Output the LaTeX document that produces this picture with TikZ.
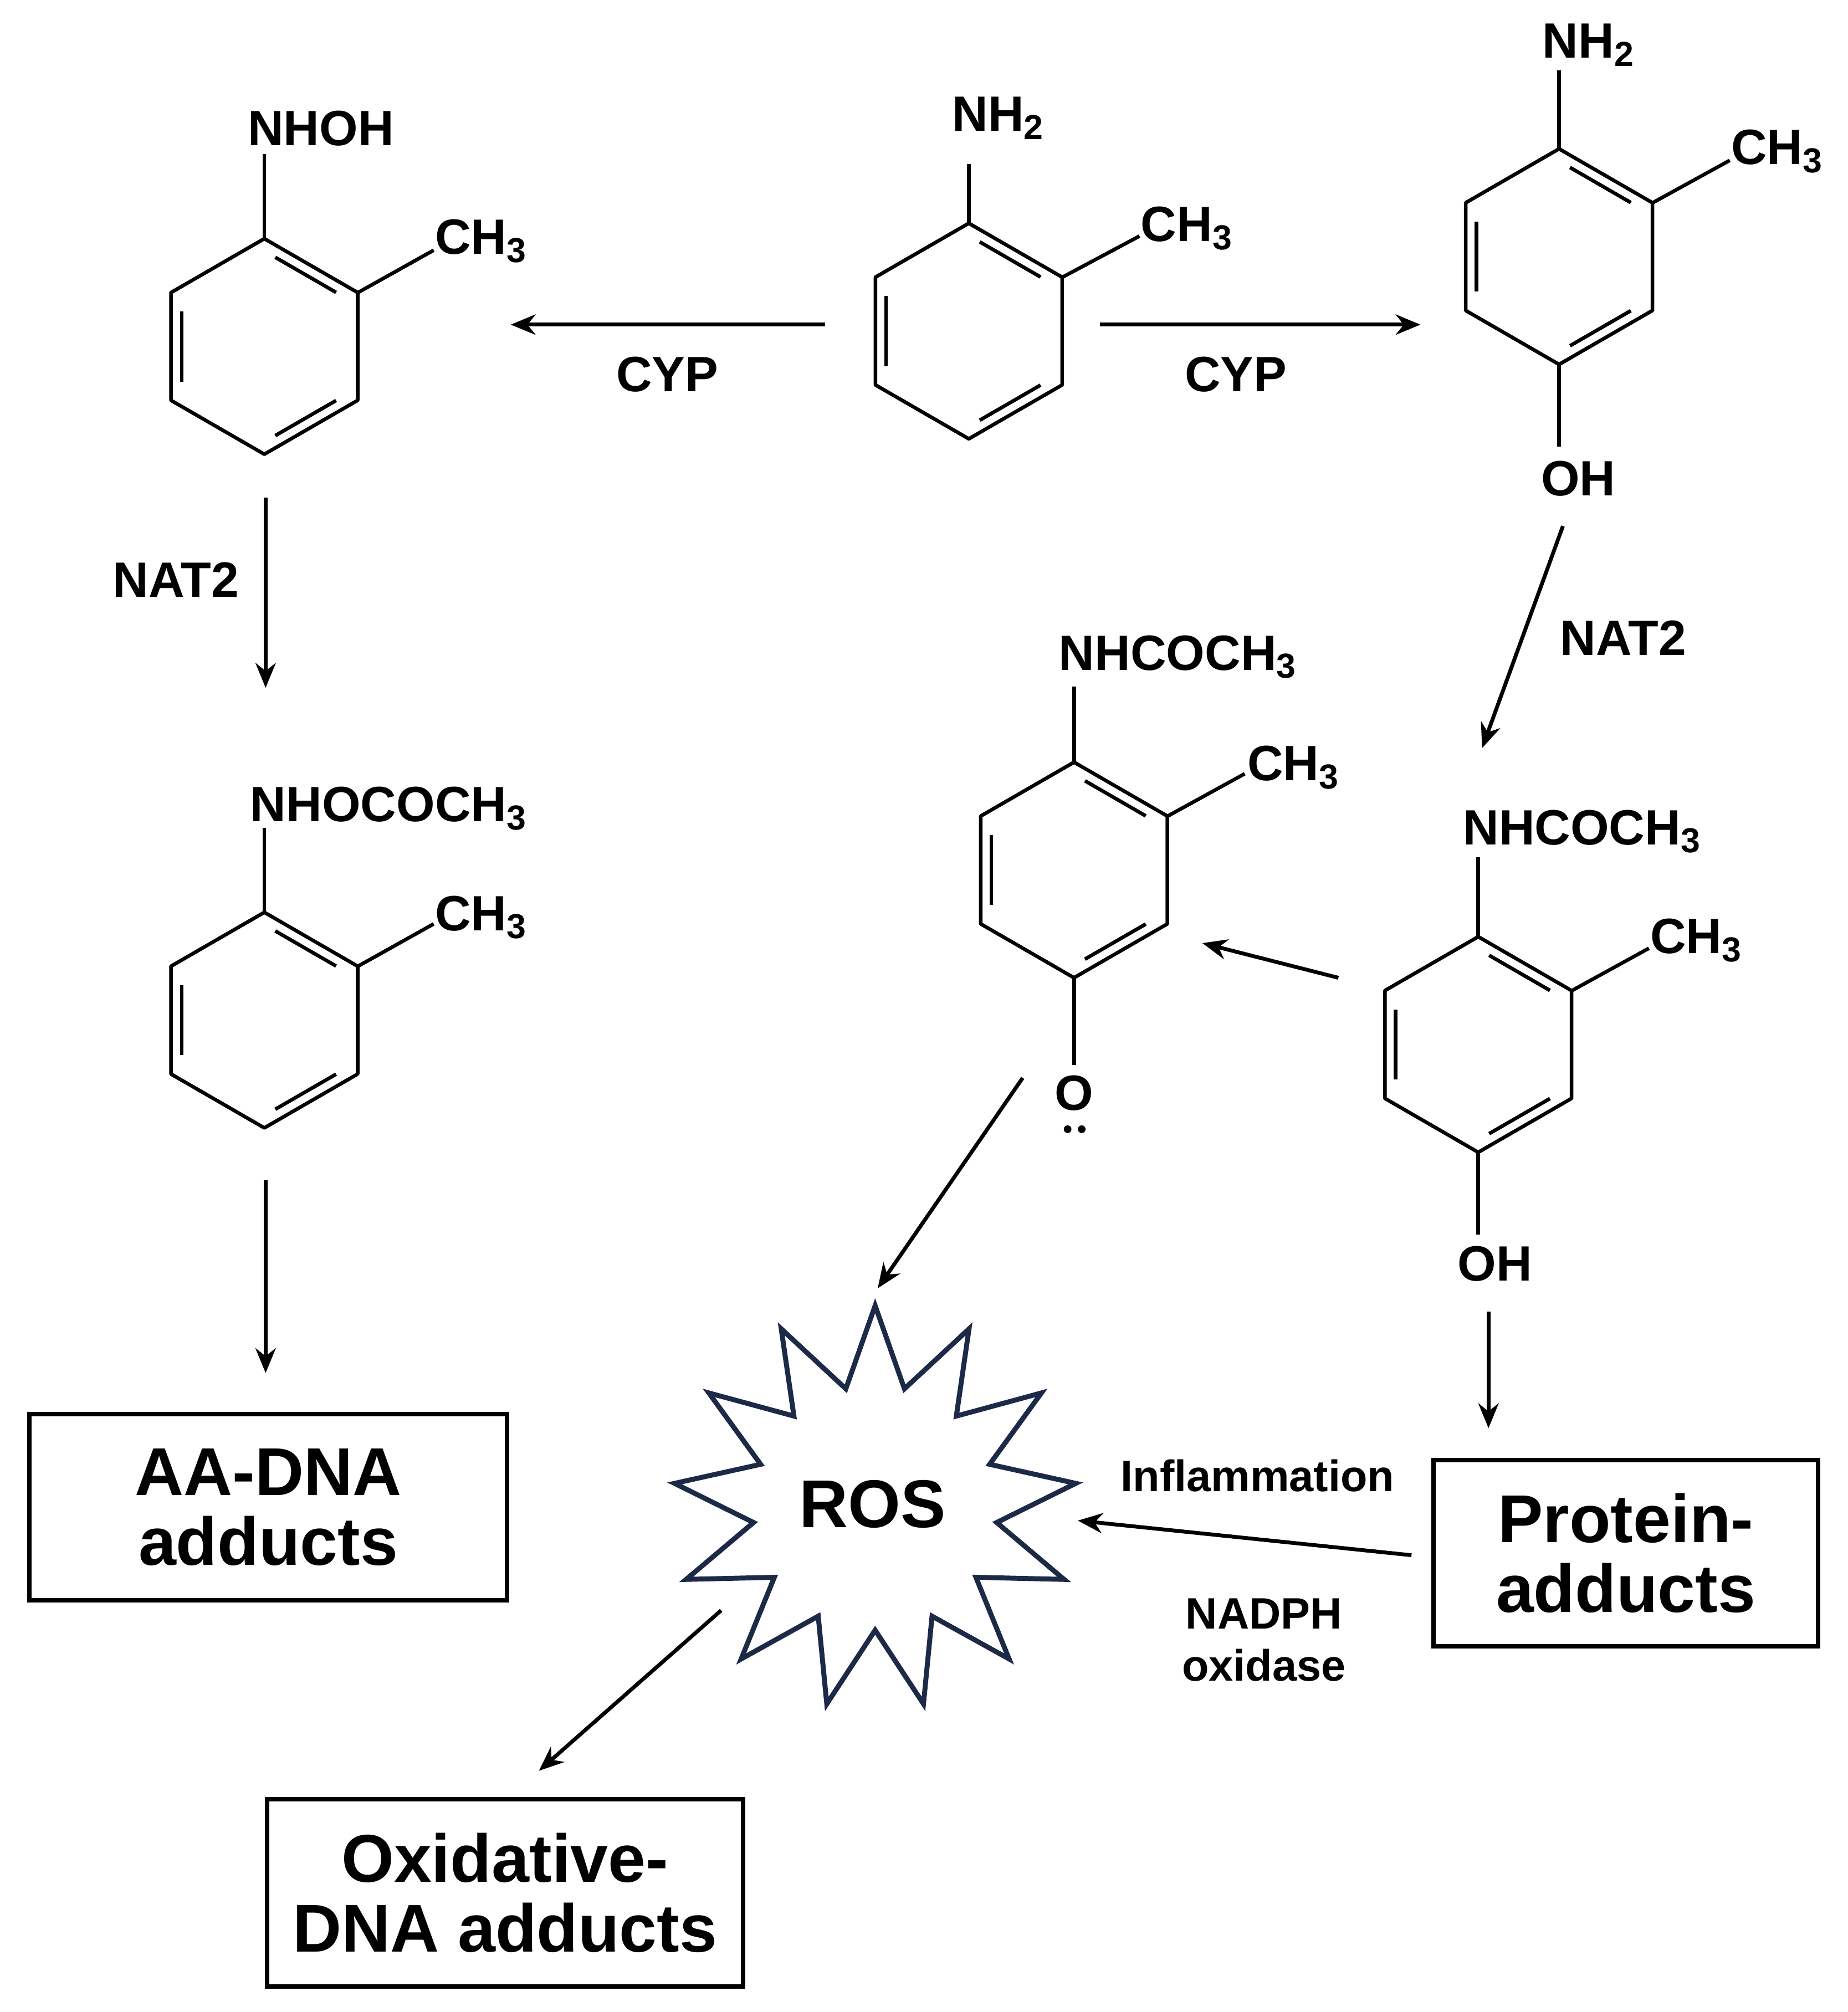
\documentclass[tikz,border=0pt]{standalone}
\usepackage{fontspec}
\setmainfont{Liberation Sans}
\usetikzlibrary{shapes.geometric,arrows.meta,calc}
\definecolor{navy}{HTML}{1C2A48}
\begin{document}
\begin{tikzpicture}[x=0.02cm,y=-0.02cm,
  bond/.style={line width=1.6pt,line join=round},
  arr/.style={line width=1.7pt,-{Stealth[length=11pt,width=9pt]}},
  chem/.style={font=\bfseries\fontsize{22}{24}\selectfont,inner sep=0pt},
  lab/.style={font=\bfseries\fontsize{22}{24}\selectfont,inner sep=0pt},
  small/.style={font=\bfseries\fontsize{19.5}{23}\selectfont,inner sep=0pt,align=center},
  box/.style={draw,line width=2pt,font=\bfseries\fontsize{30}{33}\selectfont,align=center,inner sep=0pt}]
\useasboundingbox (0,0) rectangle (1440,1568);
\newcommand{\benz}[2]{%
  \draw[bond] ({#1+84*cos(90)},{#2+84*sin(90)}) -- ({#1+84*cos(150)},{#2+84*sin(150)}) -- ({#1+84*cos(210)},{#2+84*sin(210)}) -- ({#1+84*cos(270)},{#2+84*sin(270)}) -- ({#1+84*cos(330)},{#2+84*sin(330)}) -- ({#1+84*cos(30)},{#2+84*sin(30)}) -- cycle;
  \draw[bond] ({#1+70*cos(157)},{#2+70*sin(157)}) -- ({#1+70*cos(203)},{#2+70*sin(203)});
  \draw[bond] ({#1+70*cos(37)},{#2+70*sin(37)}) -- ({#1+70*cos(83)},{#2+70*sin(83)});
  \draw[bond] ({#1+70*cos(277)},{#2+70*sin(277)}) -- ({#1+70*cos(323)},{#2+70*sin(323)});}
\newcommand{\sub}[1]{\textsubscript{#1}}
% ring 1 aniline
\benz{755}{258}
\draw[bond] (755,174) -- (755,128);
\node[chem] (n1) at (778,92) {NH\sub{2}};
\draw[bond] (828,216) -- (888,184);
\node[chem] (c1) at (925,178) {CH\sub{3}};
% ring 2
\benz{206}{270}
\draw[bond] (206,186) -- (206,120);
\node[chem] (n2) at (250,100) {NHOH};
\draw[bond] (279,228) -- (338,195);
\node[chem] (c2) at (375,188) {CH\sub{3}};
% ring 3
\benz{206}{795}
\draw[bond] (206,711) -- (206,645);
\node[chem] (n3) at (303,630) {NHOCOCH\sub{3}};
\draw[bond] (279,753) -- (338,720);
\node[chem] (c3) at (375,715) {CH\sub{3}};
% ring 4
\benz{1215}{200}
\draw[bond] (1215,116) -- (1215,55);
\node[chem] (n4) at (1238,35) {NH\sub{2}};
\draw[bond] (1288,158) -- (1348,125);
\node[chem] (c4) at (1385,118) {CH\sub{3}};
\draw[bond] (1215,284) -- (1215,348);
\node[chem] (o4) at (1230,373) {OH};
% ring 5
\benz{837}{678}
\draw[bond] (837,594) -- (837,535);
\node[chem] (n5) at (918,512) {NHCOCH\sub{3}};
\draw[bond] (910,636) -- (970,603);
\node[chem] (c5) at (1008,598) {CH\sub{3}};
\draw[bond] (837,762) -- (837,830);
\node[chem] (o5) at (837,852) {O};
\fill (832,880) circle (3) (843,880) circle (3);
% ring 6
\benz{1152}{814}
\draw[bond] (1152,730) -- (1152,668);
\node[chem] (n6) at (1233,648) {NHCOCH\sub{3}};
\draw[bond] (1225,772) -- (1285,739);
\node[chem] (c6) at (1322,733) {CH\sub{3}};
\draw[bond] (1152,898) -- (1152,962);
\node[chem] (o6) at (1165,985) {OH};
% arrows
\coordinate (a1s) at (643,253); \coordinate (a1e) at (398,253);
\draw[arr] (a1s) -- (a1e); \node[lab] at (520,292) {CYP};
\coordinate (a2s) at (857,253); \coordinate (a2e) at (1107,253);
\draw[arr] (a2s) -- (a2e); \node[lab] at (963,292) {CYP};
\coordinate (a3s) at (207,388); \coordinate (a3e) at (207,536);
\draw[arr] (a3s) -- (a3e); \node[lab] at (137,452) {NAT2};
\coordinate (a4s) at (1218,410); \coordinate (a4e) at (1155,583);
\draw[arr] (a4s) -- (a4e); \node[lab] at (1265,497) {NAT2};
\coordinate (a5s) at (1043,762); \coordinate (a5e) at (937,735);
\draw[arr] (a5s) -- (a5e);
\coordinate (a6s) at (207,920); \coordinate (a6e) at (207,1070);
\draw[arr] (a6s) -- (a6e);
\coordinate (a7s) at (797,840); \coordinate (a7e) at (684,1004);
\draw[arr] (a7s) -- (a7e);
\coordinate (a8s) at (1160,1022); \coordinate (a8e) at (1160,1113);
\draw[arr] (a8s) -- (a8e);
% ROS
\node[star,star points=13,star point ratio=1.65,minimum size=6.3cm,draw=navy,line width=2.2pt,inner sep=0pt] (ros) at (682,1175) {};
\node[font=\bfseries\fontsize{30}{33}\selectfont] (rost) at (680,1172) {ROS};
% boxes
\node[box,minimum width=7.44cm,minimum height=2.9cm] (aa) at (209,1174.5) {AA-DNA\\[-2pt]adducts};
\node[box,minimum width=6cm,minimum height=2.9cm] (prot) at (1267,1210.5) {Protein-\\[-2pt]adducts};
\node[box,minimum width=7.42cm,minimum height=2.92cm] (ox) at (393.5,1475) {Oxidative-\\[-2pt]DNA adducts};
\coordinate (a9s) at (1100,1212); \coordinate (a9e) at (840,1185);
\draw[arr] (a9s) -- (a9e);
\node[small] at (980,1150) {Inflammation};
\node[small] at (985,1278) {NADPH\\oxidase};
\coordinate (a10s) at (562,1255); \coordinate (a10e) at (420,1380);
\draw[arr] (a10s) -- (a10e);
\end{tikzpicture}
\end{document}
